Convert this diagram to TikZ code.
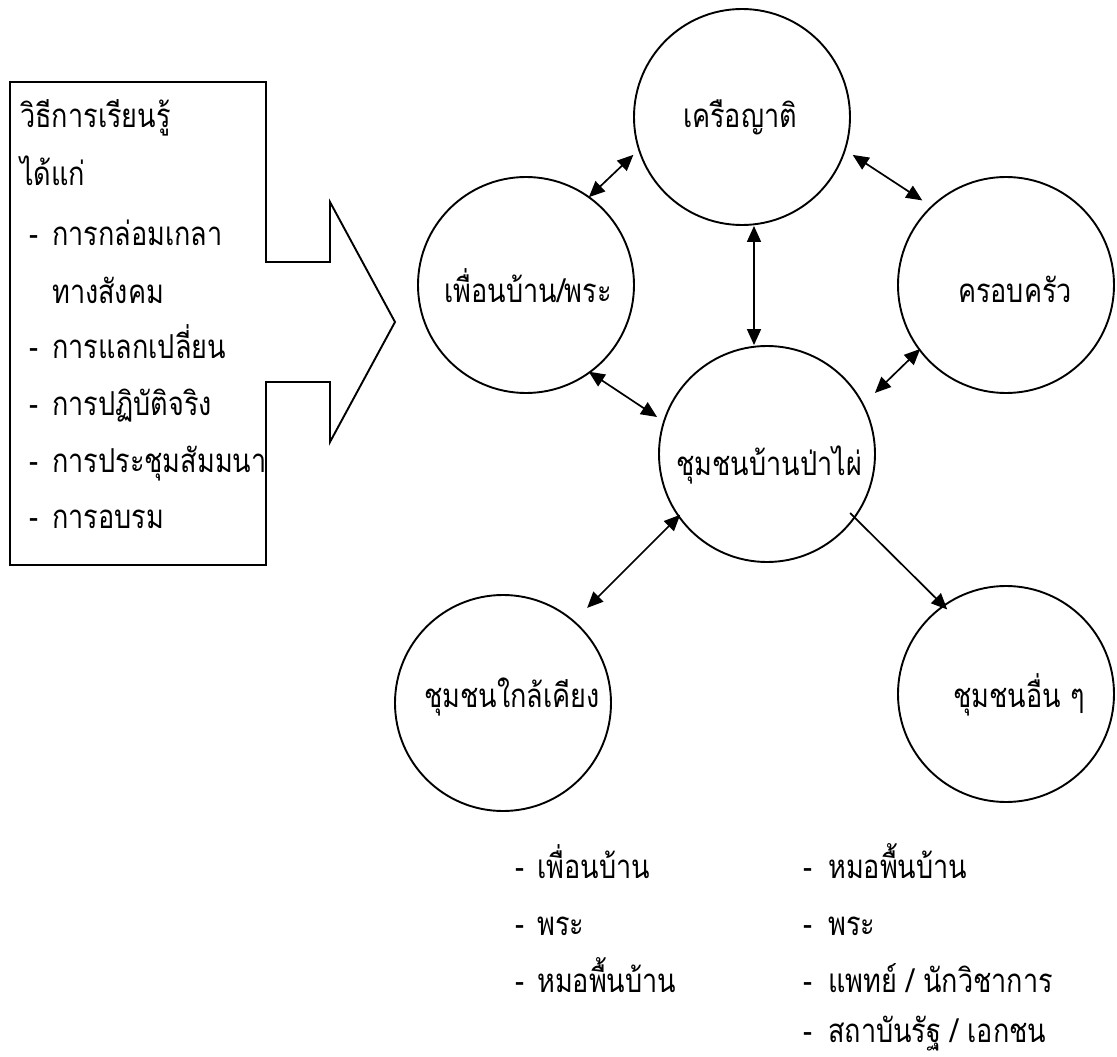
\documentclass[tikz,border=0pt]{standalone}
\usepackage{fontspec}
\setmainfont[Script=Thai,FakeStretch=0.82]{Loma}
\usetikzlibrary{arrows.meta,calc}
\begin{document}
\begin{tikzpicture}[x=1pt,y=-1pt,
  circ/.style={circle,draw,line width=1.9pt,minimum size=216pt,inner sep=0pt},
  lbl/.style={inner sep=0pt,font=\fontsize{33}{40}\selectfont},
  conn/.style={line width=1.7pt},
  >={Triangle[length=16pt,width=14pt]}]
\useasboundingbox (0,0) rectangle (1117,1057);
% box with arrow
\draw[line width=1.9pt,line join=miter] (10,82) -- (266,82) -- (266,262) -- (330,262) -- (330,202)
  -- (395,322) -- (330,442) -- (330,382) -- (266,382) -- (266,565) -- (10,565) -- cycle;
\node[lbl,anchor=base west] (b1) at (20,128) {วิธีการเรียนรู้};
\node[lbl,anchor=base west] (b2) at (20,185) {ได้แก่};
\node[lbl,anchor=base west] (b3d) at (29,245) {-};
\node[lbl,anchor=base west] (b3) at (52,245) {การกล่อมเกลา};
\node[lbl,anchor=base west] (b4) at (52,303) {ทางสังคม};
\node[lbl,anchor=base west] (b5d) at (29,358) {-};
\node[lbl,anchor=base west] (b5) at (52,358) {การแลกเปลี่ยน};
\node[lbl,anchor=base west] (b6d) at (29,415) {-};
\node[lbl,anchor=base west] (b6) at (52,415) {การปฏิบัติจริง};
\node[lbl,anchor=base west] (b7d) at (29,472) {-};
\node[lbl,anchor=base west] (b7) at (52,472) {การประชุมสัมมนา};
\node[lbl,anchor=base west] (b8d) at (29,528) {-};
\node[lbl,anchor=base west] (b8) at (52,528) {การอบรม};
% circles
\node[circ] (K) at (742,117) {};
\node[circ] (P) at (526,285) {};
\node[circ] (F) at (1006,285) {};
\node[circ] (C) at (767,454) {};
\node[circ] (N) at (503,703) {};
\node[circ] (O) at (1006,694) {};
\node[lbl,anchor=base] (Kt) at ($(K)+(-2,10)$) {เครือญาติ};
\node[lbl,anchor=base] (Pt) at ($(P)+(2,17)$) {เพื่อนบ้าน/พระ};
\node[lbl,anchor=base] (Ft) at ($(F)+(9,17)$) {ครอบครัว};
\node[lbl,anchor=base] (Ct) at ($(C)+(2,21)$) {ชุมชนบ้านป่าไผ่};
\node[lbl,anchor=base] (Nt) at ($(N)+(9,4)$) {ชุมชนใกล้เคียง};
\node[lbl,anchor=base] (Ot) at ($(O)+(13,13)$) {ชุมชนอื่น ๆ};
% connectors
\draw[conn,<->] ($(P)+(-54.4:108)$) -- ($(K)+(160.8:115)$);
\draw[conn,<->] ($(K)+(18.9:117)$) -- ($(F)+(-134.7:119)$);
\draw[conn,<->] ([xshift=12pt]K.south) -- ([xshift=-13pt]C.north);
\draw[conn,<->] ($(P)+(54.1:107)$) -- ($(C)+(198.6:116)$);
\draw[conn,<->] ($(F)+(143.3:107)$) -- ($(C)+(-29.5:124)$);
\draw[conn,<->] ($(C)+(145:106)$) -- ($(N)+(-48.5:127)$);
\draw[conn,->] ($(C)+(35.4:102)$) -- ($(O)+(-124.8:103)$);
% lists
\node[lbl,anchor=base west] (l1d) at (515,878) {-};
\node[lbl,anchor=base west] (l1) at (537,878) {เพื่อนบ้าน};
\node[lbl,anchor=base west] (l2d) at (515,935) {-};
\node[lbl,anchor=base west] (l2) at (537,935) {พระ};
\node[lbl,anchor=base west] (l3d) at (515,992) {-};
\node[lbl,anchor=base west] (l3) at (537,992) {หมอพื้นบ้าน};
\node[lbl,anchor=base west] (r1d) at (803,878) {-};
\node[lbl,anchor=base west] (r1) at (828,878) {หมอพื้นบ้าน};
\node[lbl,anchor=base west] (r2d) at (803,935) {-};
\node[lbl,anchor=base west] (r2) at (828,935) {พระ};
\node[lbl,anchor=base west] (r3d) at (803,992) {-};
\node[lbl,anchor=base west] (r3) at (828,992) {แพทย์ / นักวิชาการ};
\node[lbl,anchor=base west] (r4d) at (803,1042) {-};
\node[lbl,anchor=base west] (r4) at (828,1042) {สถาบันรัฐ / เอกชน};
\end{tikzpicture}
\end{document}
